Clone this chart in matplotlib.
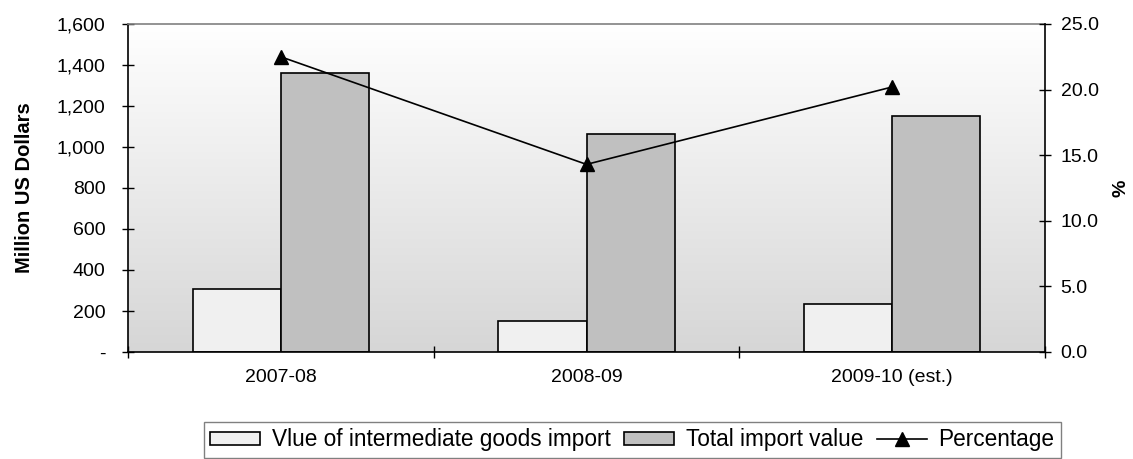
import numpy as np
import matplotlib
matplotlib.use("Agg")
import matplotlib.pyplot as plt
from matplotlib.ticker import FuncFormatter, FixedLocator
from matplotlib.colors import LinearSegmentedColormap

plt.rcParams['font.family'] = ['Liberation Sans', 'DejaVu Sans']

categories = ["2007-08", "2008-09", "2009-10 (est.)"]
intermediate = [307, 151, 234]
total_import = [1362, 1062, 1153]
percentage = [22.5, 14.3, 20.2]

fig = plt.figure(figsize=(11.33, 4.59), dpi=100)
ax = fig.add_axes([128/1133, 1-352/459, (1045-128)/1133, (352-24)/459])

# gradient background
grad = np.linspace(0, 1, 256).reshape(-1, 1)
cmap = LinearSegmentedColormap.from_list("bg", ["#ffffff", "#d6d6d6"])
ax.imshow(grad, extent=[0, 1, 0, 1], transform=ax.transAxes, cmap=cmap,
          aspect='auto', zorder=0, origin='upper')

x = np.arange(len(categories))
w = 0.288
ax.bar(x - w/2, intermediate, width=w, color="#f0f0f0", edgecolor="black",
       linewidth=1.2, zorder=2, label="Vlue of intermediate goods import")
ax.bar(x + w/2, total_import, width=w, color="#c0c0c0", edgecolor="black",
       linewidth=1.2, zorder=2, label="Total import value")

ax.set_xlim(-0.5, 2.5)
ax.set_ylim(0, 1600)
ax.set_yticks(np.arange(0, 1601, 200))
ax.yaxis.set_major_formatter(FuncFormatter(lambda v, p: "-" if v == 0 else f"{v:,.0f}"))
ax.set_xticks(x)
ax.set_xticklabels(categories, fontsize=14)
ax.tick_params(axis='x', which='major', length=0, pad=12)
ax.xaxis.set_minor_locator(FixedLocator([-0.5, 0.5, 1.5, 2.5]))
ax.tick_params(axis='x', which='minor', length=8.6, direction='inout', width=1)
ax.tick_params(axis='y', labelsize=14, length=8.6, direction='inout', width=1, pad=12)
ax.set_ylabel("Million US Dollars", fontsize=14.5, fontweight='bold', labelpad=16)

for s in ['left', 'bottom']:
    ax.spines[s].set_color('black')
    ax.spines[s].set_linewidth(1.2)
ax.spines['right'].set_visible(False)
ax.spines['top'].set_color('#808080')
ax.spines['top'].set_linewidth(1.2)

ax2 = ax.twinx()
ax2.patch.set_visible(False)
ax2.plot(x, percentage, color='black', marker='^', markersize=9.5, linewidth=1.2,
         zorder=3, label="Percentage")
ax2.set_ylim(0, 25)
ax2.set_yticks(np.arange(0, 25.1, 5))
ax2.yaxis.set_major_formatter(FuncFormatter(lambda v, p: f"{v:.1f}"))
ax2.tick_params(axis='y', labelsize=14, length=8.6, direction='inout', width=1, pad=7)
ax2.set_ylabel("%", fontsize=14, fontweight='bold', labelpad=10)
for s in ['left', 'top', 'bottom']:
    ax2.spines[s].set_visible(False)
ax2.spines['right'].set_color('black')
ax2.spines['right'].set_linewidth(1.2)

h1, l1 = ax.get_legend_handles_labels()
h2, l2 = ax2.get_legend_handles_labels()
leg = fig.legend(h1 + h2, l1 + l2, loc='upper left',
                 bbox_to_anchor=(204/1133, 1-422/459), ncol=3, fontsize=16.3,
                 frameon=True, fancybox=False, handlelength=2.2, handleheight=0.5,
                 columnspacing=0.6, handletextpad=0.52, borderpad=0.28,
                 borderaxespad=0)
leg.get_frame().set_edgecolor('#606060')
leg.get_frame().set_linewidth(1.0)

fig.savefig("out.png", dpi=100)
